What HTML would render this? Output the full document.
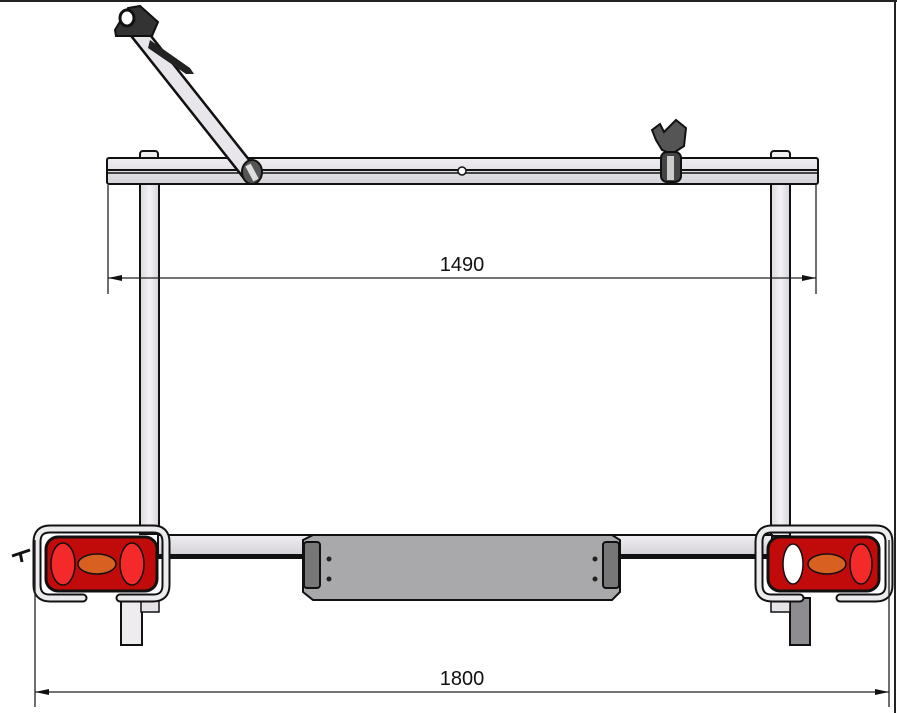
<!DOCTYPE html>
<html><head><style>
html,body{margin:0;padding:0;background:#fff;}
svg{display:block;}
text{font-family:"Liberation Sans",sans-serif;}
</style></head><body>
<svg width="897" height="713" viewBox="0 0 897 713" xmlns="http://www.w3.org/2000/svg">
<defs>
<linearGradient id="mg" x1="0" y1="0" x2="1" y2="0">
<stop offset="0" stop-color="#dcd8de"/><stop offset="0.5" stop-color="#f4f2f6"/><stop offset="1" stop-color="#d8d4da"/>
</linearGradient>
<linearGradient id="hg" x1="0" y1="0" x2="0" y2="1">
<stop offset="0" stop-color="#f0eef2"/><stop offset="1" stop-color="#d6d2d8"/>
</linearGradient>
</defs>
<line x1="0" y1="1" x2="897" y2="1" stroke="#222" stroke-width="2"/>
<line x1="895" y1="0" x2="895" y2="713" stroke="#222" stroke-width="2"/>

<rect x="140" y="151" width="18" height="12" rx="3" fill="#eee" stroke="#111" stroke-width="2"/>
<rect x="771" y="151" width="19" height="12" rx="3" fill="#eee" stroke="#111" stroke-width="2"/>
<rect x="140" y="184" width="19" height="350" fill="url(#mg)" stroke="#111" stroke-width="2"/>
<rect x="771" y="184" width="19" height="352" fill="url(#mg)" stroke="#111" stroke-width="2"/>

<rect x="158" y="535" width="614" height="20" fill="url(#hg)" stroke="#111" stroke-width="2"/>
<rect x="158" y="555" width="614" height="4" fill="#111"/>

<rect x="107" y="158" width="711" height="26" rx="2" fill="url(#hg)" stroke="#111" stroke-width="2"/>
<line x1="108" y1="170" x2="817" y2="170" stroke="#111" stroke-width="2"/>
<line x1="108" y1="173" x2="817" y2="173" stroke="#111" stroke-width="1.5"/>
<circle cx="462" cy="171" r="4" fill="#fff" stroke="#111" stroke-width="1.5"/>

<!-- arm -->
<line x1="130" y1="22" x2="252" y2="176" stroke="#111" stroke-width="18" stroke-linecap="round"/>
<line x1="130" y1="22" x2="252" y2="176" stroke="#e8e6ea" stroke-width="13" stroke-linecap="round"/>
<ellipse cx="252" cy="172" rx="10" ry="12" fill="#555" stroke="#111" stroke-width="2"/>
<line x1="248" y1="165" x2="256" y2="180" stroke="#ddd" stroke-width="6"/>
<path d="M150 40 L190 68 L194 74 L186 74 L148 48Z" fill="#222"/>
<path d="M115 30 L128 8 L140 6 L158 22 L152 36 L128 36 L116 36Z" fill="#333" stroke="#111" stroke-width="2"/>
<ellipse cx="127" cy="18" rx="7" ry="8" fill="#fff" stroke="#111" stroke-width="3"/>
<path d="M652 130 L660 124 L664 132 L676 120 L686 128 L684 146 L672 154 L662 150 L656 140Z" fill="#555" stroke="#111" stroke-width="2"/>
<rect x="661" y="152" width="20" height="30" rx="6" fill="#444" stroke="#111" stroke-width="2"/>
<rect x="667" y="156" width="7" height="24" fill="#ccc"/>

<path d="M303 540 L313 535 L612 535 L620 540 L620 592 L612 600 L313 600 L303 592Z" fill="#a9a8ab" stroke="#111" stroke-width="2"/>
<rect x="304" y="542" width="16" height="46" rx="3" fill="#777" stroke="#111" stroke-width="2"/>
<rect x="603" y="542" width="16" height="46" rx="3" fill="#777" stroke="#111" stroke-width="2"/>
<circle cx="329" cy="559" r="2.5" fill="#222"/><circle cx="329" cy="579" r="2.5" fill="#222"/>
<circle cx="595" cy="559" r="2.5" fill="#222"/><circle cx="595" cy="579" r="2.5" fill="#222"/>

<rect x="121" y="598" width="21" height="47" fill="#eeecef" stroke="#111" stroke-width="2"/>
<rect x="790" y="598" width="20" height="47" fill="#8e8c90" stroke="#111" stroke-width="2"/>
<rect x="771" y="598" width="19" height="14" fill="#e6e4e8" stroke="#111" stroke-width="1.5"/>
<rect x="141" y="598" width="18" height="14" fill="#e6e4e8" stroke="#111" stroke-width="1.5"/>

<path d="M83 598 L50 598 Q37 598 37 585 L37 542 Q37 529 50 529 L153 529 Q166 529 166 542 L166 585 Q166 598 153 598 L120 598" fill="none" stroke="#111" stroke-width="9" stroke-linecap="round"/>
<path d="M83 598 L50 598 Q37 598 37 585 L37 542 Q37 529 50 529 L153 529 Q166 529 166 542 L166 585 Q166 598 153 598 L120 598" fill="none" stroke="#ececee" stroke-width="5" stroke-linecap="round"/>
<rect x="46" y="537" width="111" height="54" rx="12" fill="#c10b0b" stroke="#111" stroke-width="3"/>
<ellipse cx="63" cy="564" rx="12" ry="21" fill="#f42a2a" stroke="#111" stroke-width="1.5"/>
<ellipse cx="132" cy="564" rx="12" ry="21" fill="#f42a2a" stroke="#111" stroke-width="1.5"/>
<ellipse cx="97" cy="564" rx="19" ry="10" fill="#d86020" stroke="#111" stroke-width="1.5"/>
<path d="M12 556 L30 550 M20 552 L22 562" stroke="#111" stroke-width="3"/>

<path d="M800 598 L772 598 Q759 598 759 585 L759 542 Q759 529 772 529 L876 529 Q889 529 889 542 L889 585 Q889 598 876 598 L840 598" fill="none" stroke="#111" stroke-width="9" stroke-linecap="round"/>
<path d="M800 598 L772 598 Q759 598 759 585 L759 542 Q759 529 772 529 L876 529 Q889 529 889 542 L889 585 Q889 598 876 598 L840 598" fill="none" stroke="#ececee" stroke-width="5" stroke-linecap="round"/>
<rect x="768" y="537" width="111" height="54" rx="12" fill="#c10b0b" stroke="#111" stroke-width="3"/>
<ellipse cx="793" cy="564" rx="10" ry="20" fill="#fff" stroke="#111" stroke-width="1.5"/>
<ellipse cx="861" cy="564" rx="11" ry="20" fill="#f42a2a" stroke="#111" stroke-width="1.5"/>
<ellipse cx="827" cy="564" rx="19" ry="10" fill="#d86020" stroke="#111" stroke-width="1.5"/>

<g stroke="#222" stroke-width="1.3">
<line x1="108" y1="185" x2="108" y2="294"/>
<line x1="816" y1="185" x2="816" y2="294"/>
<line x1="108" y1="278" x2="816" y2="278"/>
<line x1="35" y1="540" x2="35" y2="707"/>
<line x1="889" y1="540" x2="889" y2="707"/>
<line x1="35" y1="692" x2="889" y2="692"/>
</g>
<path d="M108 278 L122 275 L122 281Z M816 278 L802 275 L802 281Z M35 692 L49 689 L49 695Z M889 692 L875 689 L875 695Z" fill="#111"/>
<text x="462" y="271" font-size="20" text-anchor="middle" fill="#111">1490</text>
<text x="462" y="685" font-size="20" text-anchor="middle" fill="#111">1800</text>
</svg>
</body></html>
